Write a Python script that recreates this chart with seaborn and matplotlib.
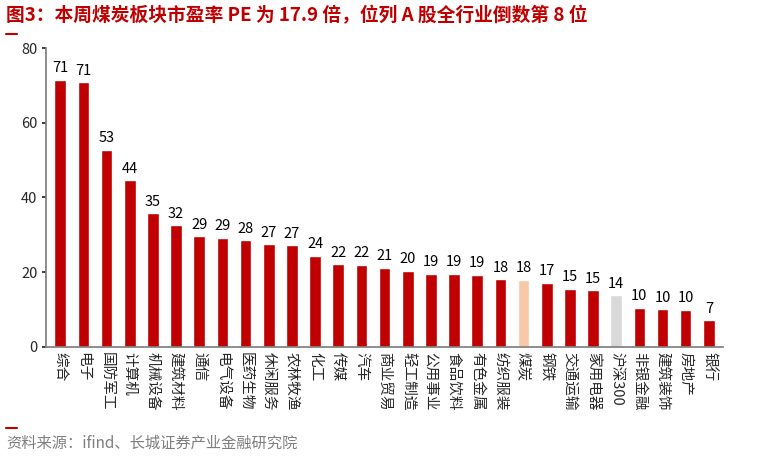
import matplotlib
matplotlib.use("Agg")
import matplotlib.pyplot as plt
import seaborn as sns
import pandas as pd

categories = ["综合","电子","国防军工","计算机","机械设备","建筑材料","通信","电气设备","医药生物","休闲服务",
              "农林牧渔","化工","传媒","汽车","商业贸易","轻工制造","公用事业","食品饮料","有色金属","纺织服装",
              "煤炭","钢铁","交通运输","家用电器","沪深300","非银金融","建筑装饰","房地产","银行"]
values = [71.5,70.8,52.8,44.6,35.7,32.5,29.6,29.2,28.5,27.4,27.2,24.4,22.1,22.0,21.1,20.4,19.6,19.5,19.3,18.1,
          17.9,17.2,15.5,15.1,13.8,10.4,10.0,9.9,7.1]
labels = [71,71,53,44,35,32,29,29,28,27,27,24,22,22,21,20,19,19,19,18,18,17,15,15,14,10,10,10,7]

sns.set_theme(style="white")
plt.rcParams['font.family'] = ['Noto Sans CJK SC', 'DejaVu Sans']

colors = []
for c in categories:
    if c == "煤炭": colors.append("#F8C9A8")
    elif c == "沪深300": colors.append("#D9D9D9")
    else: colors.append("#C00000")

df = pd.DataFrame({"cat": categories, "val": values})
fig = plt.figure(figsize=(7.73, 4.58), dpi=100)
ax = fig.add_axes([0.06, 0.243, 0.875, 0.652])
sns.barplot(data=df, x="cat", y="val", hue="cat", palette=colors, legend=False, ax=ax, width=0.5, saturation=1)
for i, (v, l) in enumerate(zip(values, labels)):
    ax.text(i, v + 1.2, str(l), ha="center", va="bottom", fontsize=10.5, color="black")
ax.set_ylim(0, 80)
ax.set_yticks([0, 20, 40, 60, 80])
ax.set_xlim(-0.6, len(categories) - 0.4)
ax.set_xlabel(""); ax.set_ylabel("")
ax.tick_params(axis="y", labelsize=10.5, length=3, left=True)
ax.tick_params(axis="x", length=0, pad=4)
ax.set_xticks(range(len(categories)))
ax.set_xticklabels(categories, rotation=270, fontsize=10.5, va="top", ha="center")
for s in ["top", "right"]:
    ax.spines[s].set_visible(False)
ax.spines["left"].set_color("#808080")
ax.spines["bottom"].set_color("#808080")

fig.text(0.008, 0.965, "图3：本周煤炭板块市盈率 PE 为 17.9 倍，位列 A 股全行业倒数第 8 位",
         color="#C00000", fontsize=13.5, fontweight="bold", style="italic", va="center")
fig.add_artist(plt.Line2D([0.008, 0.022], [0.925, 0.925], color="#C00000", lw=1.5))
fig.add_artist(plt.Line2D([0.008, 0.022], [0.065, 0.065], color="#C00000", lw=1.5))
fig.text(0.008, 0.032, "资料来源：ifind、长城证券产业金融研究院", color="#7F7F7F", fontsize=11,
         style="italic", va="center")
fig.savefig("out.png", dpi=100)
